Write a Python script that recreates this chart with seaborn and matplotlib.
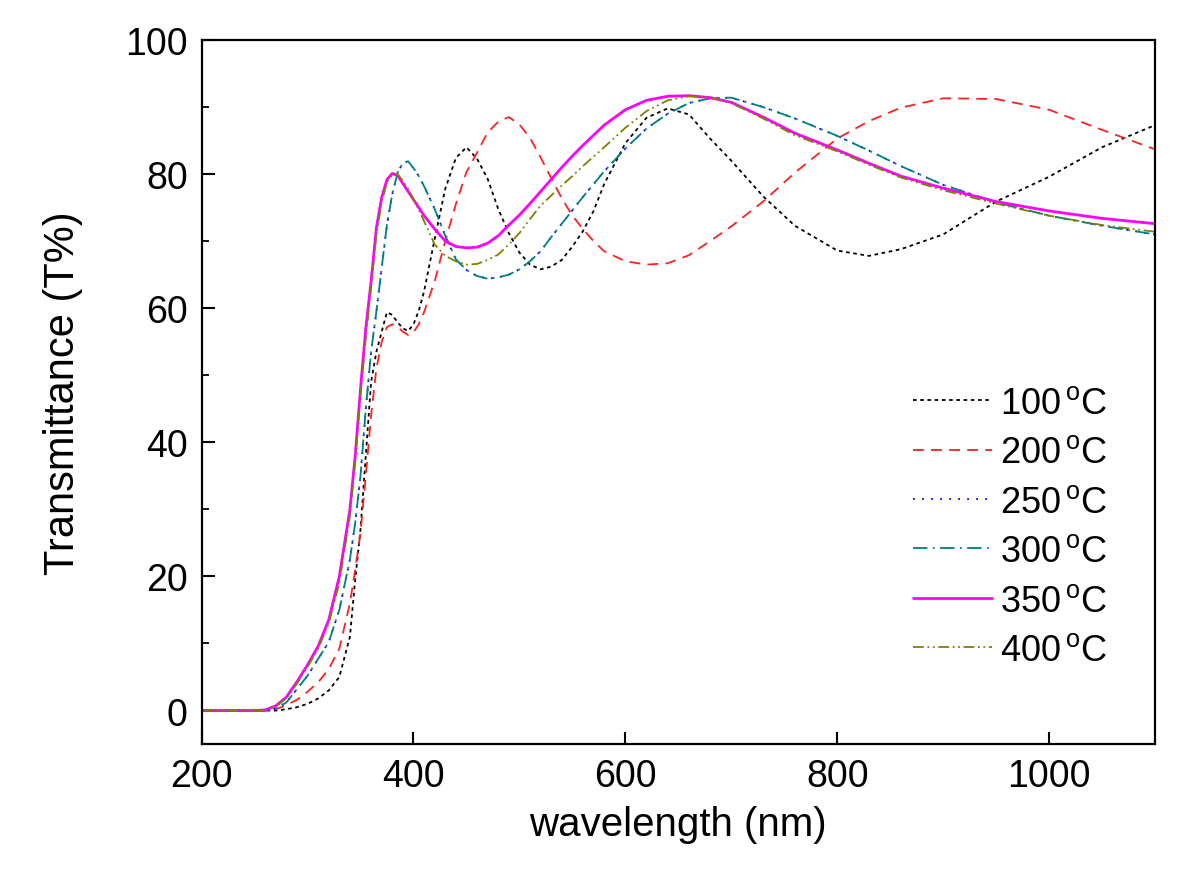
import numpy as np
import pandas as pd
import matplotlib
matplotlib.use('Agg')
import matplotlib.pyplot as plt
import seaborn as sns

# wavelength grid (nm)
wl = [200, 250, 260, 270, 280, 290, 300, 310, 320, 330, 340, 345, 350, 355, 360,
      365, 370, 375, 380, 385, 390, 395, 400, 405, 410, 420, 430, 440, 450, 460,
      470, 480, 490, 500, 510, 520, 530, 540, 550, 560, 570, 580, 600, 620, 640,
      660, 680, 700, 730, 760, 800, 830, 860, 900, 950, 1000, 1050, 1100]

# transmittance (%)
t100 = [0, 0, 0, 0, 0.2, 0.5, 1.0, 1.8, 3.0, 5.0, 11, 19.5, 27, 38, 49,
        53.5, 56.5, 59.4, 59.0, 57.9, 57.0, 56.6, 57.6, 59.6, 62.5, 70.3, 77.8, 82.4, 84.0, 82.3,
        79.3, 74.8, 71.2, 68.3, 66.5, 65.8, 66.2, 67.2, 69.2, 71.5, 74.5, 78.5, 84.6, 88.4, 89.8,
        88.9, 85.3, 82.0, 76.7, 72.3, 68.6, 67.8, 68.8, 71.0, 75.9, 79.6, 84.0, 87.3]
t200 = [0, 0, 0, 0.2, 0.8, 1.6, 2.8, 4.2, 6.2, 9.2, 16, 21, 26.5, 35, 44,
        51, 55, 57.2, 57.6, 57.2, 56.5, 56.0, 56.4, 57.6, 59.4, 64.0, 70.0, 75.5, 80.3, 83.2,
        86.2, 87.8, 88.5, 87.4, 85.4, 82.5, 79.4, 76.4, 73.8, 71.8, 70.0, 68.5, 67.0, 66.5, 66.7,
        67.9, 70.0, 72.2, 75.9, 80.2, 85.3, 87.9, 89.9, 91.3, 91.2, 89.6, 86.6, 83.7]
t250 = [0, 0, 0, 0.3, 1.2, 3.2, 5.2, 7.7, 10.2, 15, 22.5, 28, 35, 45, 53.5,
        59.5, 66, 72.5, 77, 80.2, 81.7, 81.9, 80.9, 79.7, 78.2, 74.8, 70.8, 67.3, 65.7, 64.8,
        64.4, 64.6, 65.0, 65.8, 67.0, 68.5, 70.6, 72.6, 74.6, 76.6, 78.5, 80.4, 83.8, 86.8, 89.0,
        90.6, 91.3, 91.4, 90.0, 88.3, 85.7, 83.5, 81.2, 78.4, 75.8, 73.8, 72.3, 71.0]
t300 = [0, 0, 0, 0.3, 1.2, 3.2, 5.2, 7.7, 10.2, 15, 22.5, 28, 35, 45, 53.5,
        59.5, 66, 72.5, 77, 80.2, 81.7, 81.9, 80.9, 79.7, 78.2, 74.8, 70.8, 67.3, 65.7, 64.8,
        64.4, 64.6, 65.0, 65.8, 67.0, 68.5, 70.6, 72.6, 74.6, 76.6, 78.5, 80.4, 83.8, 86.8, 89.0,
        90.6, 91.3, 91.4, 90.0, 88.3, 85.7, 83.5, 81.2, 78.4, 75.8, 73.8, 72.3, 71.0]
t350 = [0, 0, 0.1, 0.7, 2.0, 4.3, 6.8, 9.6, 13.5, 20, 30, 38, 48, 57, 64,
        72, 76.5, 79.2, 80.1, 79.8, 78.6, 77.4, 76.2, 75.0, 73.8, 71.8, 70.0, 69.2, 69.0, 69.1,
        69.7, 70.8, 72.4, 73.9, 75.6, 77.4, 79.2, 81.0, 82.7, 84.3, 85.8, 87.3, 89.6, 91.0, 91.6,
        91.7, 91.4, 90.7, 88.5, 86.1, 83.6, 81.6, 79.7, 77.9, 75.9, 74.5, 73.4, 72.6]
t400 = [0, 0, 0.1, 0.6, 1.8, 4.0, 6.5, 9.2, 13, 19, 29, 37, 47, 55.5, 63,
        71, 75.8, 78.8, 79.9, 80.0, 79.0, 77.8, 76.3, 74.7, 73.0, 69.5, 67.8, 67.0, 66.5, 66.6,
        67.2, 68.0, 69.5, 71.2, 73.3, 75.3, 76.8, 78.3, 79.7, 81.2, 82.6, 84.0, 86.9, 89.4, 91.0,
        91.6, 91.5, 90.6, 88.3, 85.8, 83.4, 81.4, 79.5, 77.6, 75.6, 73.8, 72.4, 71.4]

labels = ['100', '200', '250', '300', '350', '400']
series = [t100, t200, t250, t300, t350, t400]
colors = ['black', '#ff2020', '#0000ff', '#008080', '#ff00ff', '#808000']
styles = [(0, (2, 2)), (0, (6, 4)), (0, (1, 4)), (0, (8, 3, 1, 3)), '-', (0, (6, 2, 1, 2, 1, 2))]
widths = [1.3, 1.3, 1.3, 1.3, 2.0, 1.3]

sns.set_style('ticks')
plt.rcParams['font.family'] = ['Liberation Sans', 'DejaVu Sans']
plt.rcParams['mathtext.fontset'] = 'custom'
plt.rcParams['mathtext.rm'] = 'Liberation Sans'
plt.rcParams['mathtext.it'] = 'Liberation Sans'
plt.rcParams['text.color'] = 'black'
plt.rcParams['axes.labelcolor'] = 'black'
plt.rcParams['xtick.color'] = 'black'
plt.rcParams['ytick.color'] = 'black'
plt.rcParams['axes.edgecolor'] = 'black'

fig = plt.figure(figsize=(12, 8.87), dpi=100)
ax = fig.add_axes([0.168, 0.16, 0.7945, 0.7938])

for lab, ys, c, ls, lw in zip(labels, series, colors, styles, widths):
    sns.lineplot(x=wl, y=ys, ax=ax, color=c, linestyle=ls, linewidth=lw,
                 label=lab + r'$\,^{\mathrm{o}}$C')

ax.set_xlim(200, 1100)
ax.set_ylim(-5, 100)
ax.set_xticks([200, 400, 600, 800, 1000])
ax.set_yticks([0, 20, 40, 60, 80, 100])
ax.set_yticks([10, 30, 50, 70, 90], minor=True)
ax.tick_params(which='major', direction='in', length=9, width=1.5, labelsize=27, pad=10,
               top=False, right=False)
ax.tick_params(which='minor', direction='in', length=5, width=1.3, top=False, right=False)
for s in ax.spines.values():
    s.set_linewidth(1.6)
    s.set_visible(True)

ax.set_xlabel('wavelength (nm)', fontsize=29, labelpad=8)
ax.set_ylabel('Transmittance (T%)', fontsize=30, labelpad=30)

ax.legend(loc='upper left', bbox_to_anchor=(0.712, 0.555), frameon=False, fontsize=26,
          handlelength=2.2, handletextpad=0.2, labelspacing=0.4)

fig.savefig('out.png', dpi=100)
